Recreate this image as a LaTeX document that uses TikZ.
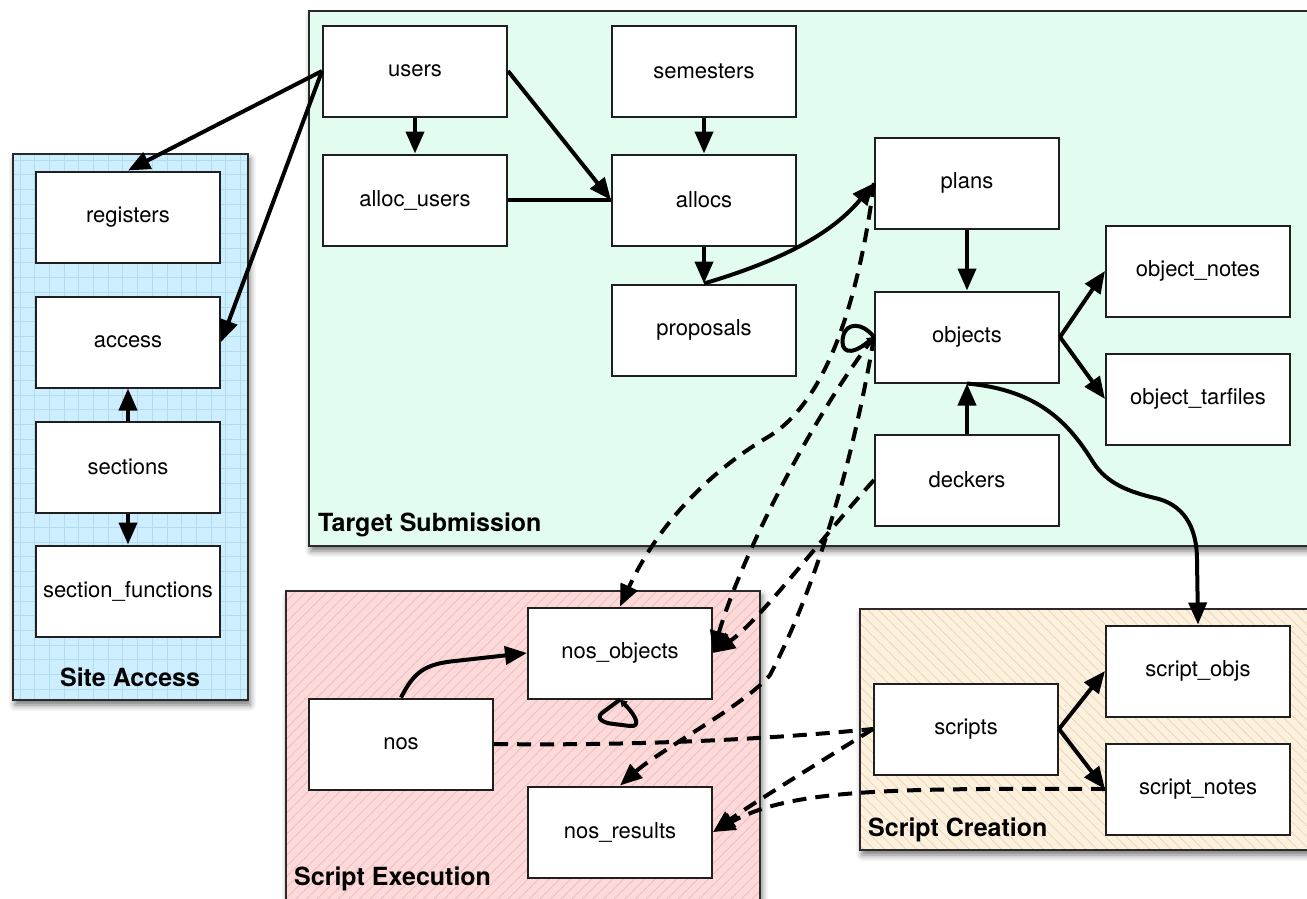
\documentclass[tikz,border=0pt]{standalone}
\usepackage{fontspec}
\setmainfont{TeX Gyre Heros}
\usetikzlibrary{arrows.meta,patterns.meta,shadows.blur}

\definecolor{siteblue}{HTML}{CCEEFF}
\definecolor{sitegrid}{HTML}{B3DBEF}
\definecolor{targetgreen}{HTML}{E2FCEF}
\definecolor{execpink}{HTML}{FDD9D9}
\definecolor{exechatch}{HTML}{E8BCBC}
\definecolor{creampeach}{HTML}{FDF0DC}
\definecolor{creamhatch}{HTML}{E4D4B8}
\definecolor{frameline}{HTML}{2A2A2A}

\tikzset{
  tbl/.style={draw=black!88, line width=2pt, fill=white,
    minimum width=184pt, minimum height=91pt, inner sep=0pt,
    font=\fontsize{22}{24}\selectfont},
  grouparea/.style={blur shadow={shadow xshift=2pt, shadow yshift=-5pt,
    shadow blur radius=6pt, shadow opacity=55}},
  groupframe/.style={draw=frameline, line width=2pt},
  grouplabel/.style={font=\bfseries\fontsize{25}{28}\selectfont, inner sep=0pt},
  rel/.style={line width=4pt, -{Triangle[length=22pt,width=18pt]}},
  link/.style={line width=4pt},
  dashrel/.style={rel, dash pattern=on 14pt off 9pt},
  dashlink/.style={link, dash pattern=on 14pt off 9pt},
  selfrel/.style={line width=4pt, line join=round, -{Triangle[length=7pt,width=8pt]}},
}

\begin{document}
\begin{tikzpicture}[x=1pt,y=-1pt]
\useasboundingbox (0,0) rectangle (1307,898);

% ---------- group backgrounds ----------
\begin{scope}
\clip (0,0) rectangle (1307,898);
% Site Access: light blue with a fine square grid
\path[grouparea, fill=siteblue] (13,154) rectangle (248,700);
\begin{scope}
  \clip (13,154) rectangle (248,700);
  \foreach \gx in {0,...,16} {
    \draw[sitegrid, line width=1pt] ({20+14.7*\gx},154) -- ({20+14.7*\gx},700);
  }
  \foreach \gy in {0,...,37} {
    \draw[sitegrid, line width=1pt] (13,{160+14.7*\gy}) -- (248,{160+14.7*\gy});
  }
\end{scope}
\draw[groupframe] (13,154) rectangle (248,700);
% Target Submission
\path[grouparea, fill=targetgreen] (309,11) rectangle (1340,546);
\draw[groupframe] (309,11) rectangle (1340,546);
% Script Execution
\path[grouparea, fill=execpink] (286,591) rectangle (760,930);
\path[pattern={Lines[angle=45,distance=7.5pt,line width=0.7pt]}, pattern color=exechatch]
  (286,591) rectangle (760,930);
\draw[groupframe] (286,591) rectangle (760,930);
% Script Creation
\path[grouparea, fill=creampeach] (860,609) rectangle (1340,850);
\path[pattern={Lines[angle=-45,distance=7.5pt,line width=0.7pt]}, pattern color=creamhatch]
  (860,609) rectangle (1340,850);
\draw[groupframe] (860,609) rectangle (1340,850);
\end{scope}

\node[grouplabel, anchor=base] (lblSite) at (130,686) {Site Access};
\node[grouplabel, anchor=base west] (lblTarget) at (318,531) {Target Submission};
\node[grouplabel, anchor=base west] (lblExec) at (294,885) {Script Execution};
\node[grouplabel, anchor=base west] (lblCreate) at (868,836) {Script Creation};

% ---------- tables ----------
\node[tbl] (users) at (415,71) {users};
\node[tbl] (semesters) at (704,71) {semesters};
\node[tbl] (alloc_users) at (415,200) {alloc\_users};
\node[tbl] (allocs) at (704,200) {allocs};
\node[tbl] (proposals) at (704,330) {proposals};
\node[tbl] (plans) at (967,183) {plans};
\node[tbl] (objects) at (967,337) {objects};
\node[tbl] (deckers) at (967,480) {deckers};
\node[tbl] (object_notes) at (1198,271) {object\_notes};
\node[tbl] (object_tarfiles) at (1198,399) {object\_tarfiles};

\node[tbl] (registers) at (128,217) {registers};
\node[tbl] (access) at (128,342) {access};
\node[tbl] (sections) at (128,467) {sections};
\node[tbl] (section_functions) at (128,591) {section\_functions};

\node[tbl] (nos_objects) at (620,653) {nos\_objects};
\node[tbl] (nos) at (401,744) {nos};
\node[tbl] (nos_results) at (620,832) {nos\_results};

\node[tbl] (scripts) at (966,729) {scripts};
\node[tbl] (script_objs) at (1198,671) {script\_objs};
\node[tbl] (script_notes) at (1198,789) {script\_notes};

% ---------- solid relations ----------
\draw[rel] (users.west) -- (registers.north);
\draw[rel] (users.west) -- (access.east);
\draw[rel] (users.south) -- (alloc_users.north);
\draw[rel] (users.east) -- (allocs.west);
\draw[link] (alloc_users.east) -- (allocs.west);
\draw[rel] (semesters.south) -- (allocs.north);
\draw[rel] (allocs.south) -- (proposals.north);
\draw[rel] (proposals.north) .. controls (790,258) and (835,230) .. (plans.west);
\draw[rel] (plans.south) -- (objects.north);
\draw[rel] (objects.east) -- (object_notes.west);
\draw[rel] (objects.east) -- (object_tarfiles.west);
\draw[rel] (deckers.north) -- (objects.south);
\draw[rel] (objects.south) .. controls (1040,390) and (1070,425) .. (1093,462)
  .. controls (1107,484) and (1130,492) .. (1155,498)
  .. controls (1182,504) and (1197,525) .. (1197,560) -- (script_objs.north);
% self reference of objects
\draw[selfrel] (objects.west) .. controls (862,322) and (846,322) .. (843,337)
  .. controls (840,352) and (850,357) .. (objects.west);

\draw[rel] (sections.north) -- (access.south);
\draw[rel] (sections.south) -- (section_functions.north);

\draw[rel] (nos.north) .. controls (414,672) and (425,664) .. (455,661) -- (nos_objects.west);
% self reference of nos_objects
\draw[selfrel] (nos_objects.south) -- (602,713)
  .. controls (596,718) and (602,723) .. (614,724) -- (630,726)
  .. controls (640,727) and (638,718) .. (nos_objects.south);

\draw[rel] (scripts.east) -- (script_objs.west);
\draw[rel] (scripts.east) -- (script_notes.west);

% ---------- dashed relations ----------
\draw[dashrel] (plans.west) .. controls (860,290) and (830,400) .. (768,437)
  .. controls (715,468) and (660,520) .. (nos_objects.north);
\draw[dashrel] (objects.west) .. controls (810,420) and (740,560) .. (nos_objects.east);
\draw[dashrel] (objects.west) .. controls (855,450) and (820,580) .. (770,675)
  .. controls (745,705) and (660,750) .. (nos_results.north);
\draw[dashrel] (deckers.west) .. controls (820,540) and (760,620) .. (nos_objects.east);
\draw[dashlink] (nos.east) .. controls (650,746) and (780,738) .. (scripts.west);
\draw[dashrel] (scripts.west) .. controls (820,762) and (750,805) .. (nos_results.east);
\draw[dashrel] (script_notes.west) .. controls (880,788) and (790,790) .. (nos_results.east);

\end{tikzpicture}
\end{document}
